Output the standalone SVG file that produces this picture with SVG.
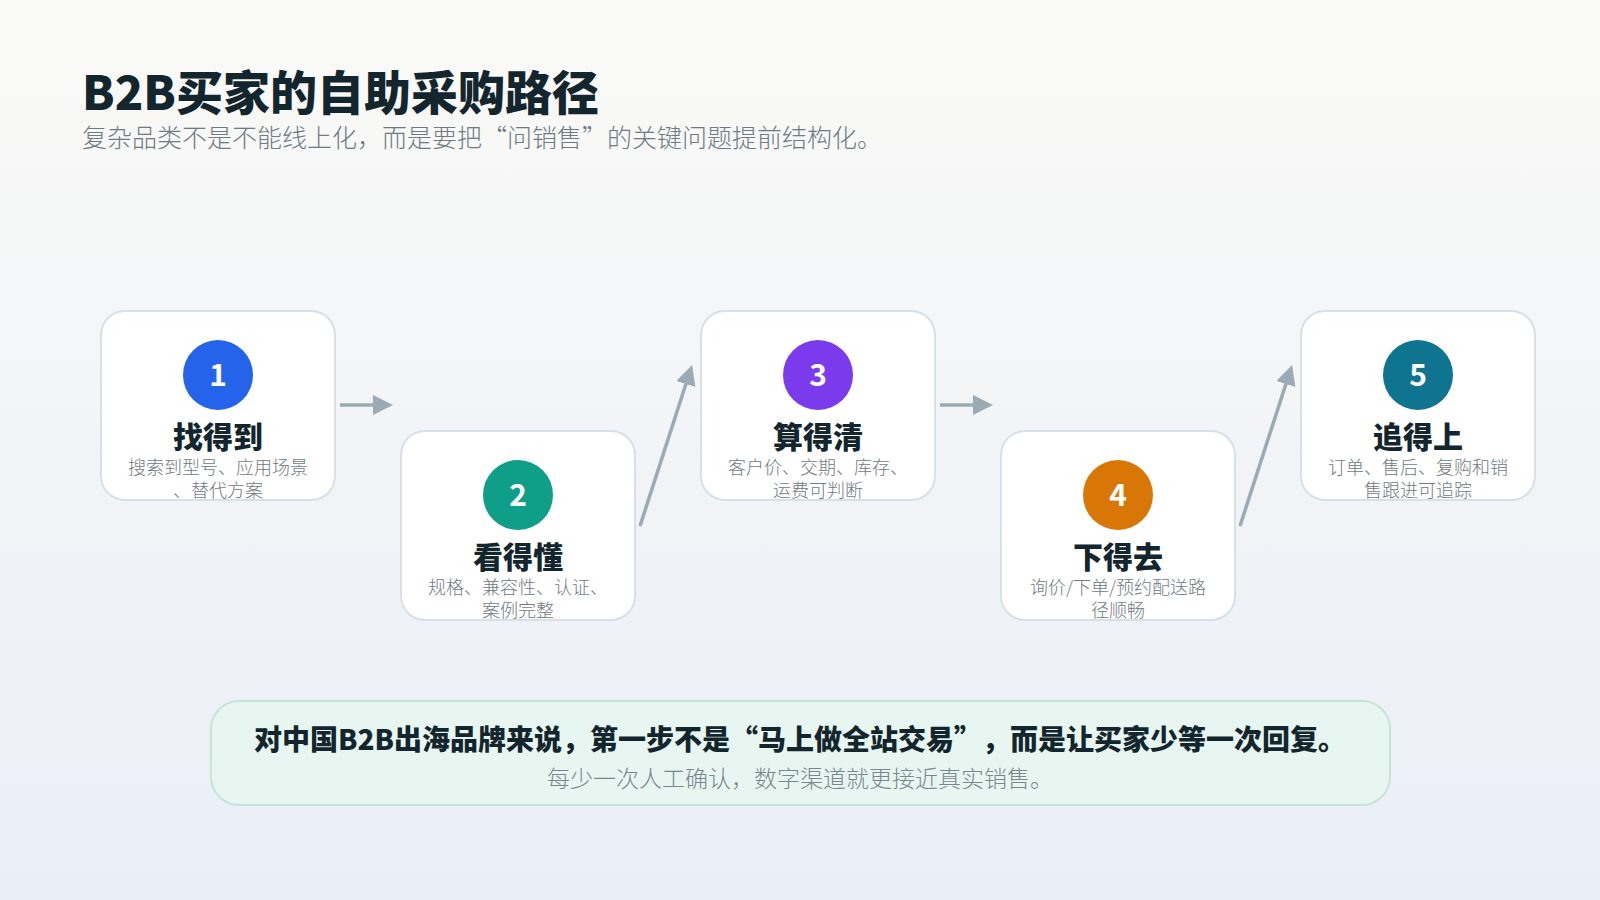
<svg xmlns="http://www.w3.org/2000/svg" width="1600" height="900" viewBox="0 0 1600 900">
<defs>
<linearGradient id="bg" x1="0" y1="0" x2="0" y2="1">
<stop offset="0" stop-color="#fafaf7"/>
<stop offset="1" stop-color="#eaeef7"/>
</linearGradient>
<marker id="ah" markerUnits="userSpaceOnUse" markerWidth="20" markerHeight="20" refX="10" refY="10" orient="auto">
<path d="M0,0 L20,10 L0,20 z" fill="#9aabb5"/>
</marker>
<clipPath id="c1"><rect x="101" y="311" width="234" height="189" rx="24"/></clipPath>
<clipPath id="c2"><rect x="401" y="431" width="234" height="189" rx="24"/></clipPath>
<clipPath id="c3"><rect x="701" y="311" width="234" height="189" rx="24"/></clipPath>
<clipPath id="c4"><rect x="1001" y="431" width="234" height="189" rx="24"/></clipPath>
<clipPath id="c5"><rect x="1301" y="311" width="234" height="189" rx="24"/></clipPath>
</defs>
<style>
text{font-family:"Noto Sans CJK SC","Noto Sans",sans-serif;text-spacing-trim:space-all}
.card{fill:#ffffff;stroke:#d6e0e6;stroke-width:2}
.num{fill:#ffffff;font-size:30px;font-weight:700;text-anchor:middle}
.ttl{fill:#13262e;font-size:30px;font-weight:900;text-anchor:middle}
.sub{fill:#6f7a82;font-size:18px;font-weight:300;text-anchor:middle}
.conn{stroke:#9aabb5;stroke-width:3.5;fill:none;marker-end:url(#ah)}
</style>
<rect x="0" y="0" width="1600" height="900" fill="url(#bg)"/>
<g id="header">
<text x="82" y="110" font-size="47" font-weight="900" fill="#13262e">B2B买家的自助采购路径</text>
<text x="82" y="147" font-size="25" font-weight="300" fill="#6f7a82">复杂品类不是不能线上化，而是要把“问销售”的关键问题提前结构化。</text>
</g>
<g id="connectors">
<line class="conn" x1="340" y1="405" x2="383" y2="405"/>
<line class="conn" x1="640" y1="526" x2="689" y2="374.5"/>
<line class="conn" x1="940" y1="405" x2="983" y2="405"/>
<line class="conn" x1="1240" y1="526" x2="1289" y2="374.5"/>
</g>
<g id="node1">
<rect class="card" x="101" y="311" width="234" height="189" rx="24"/>
<circle cx="218" cy="375" r="35" fill="#2563eb"/>
<text class="num" x="218" y="386">1</text>
<text class="ttl" x="218" y="448">找得到</text>
<g clip-path="url(#c1)"><text class="sub" x="218" y="474">搜索到型号、应用场景</text><text class="sub" x="218" y="497">、替代方案</text></g>
</g>
<g id="node2">
<rect class="card" x="401" y="431" width="234" height="189" rx="24"/>
<circle cx="518" cy="495" r="35" fill="#0f9e88"/>
<text class="num" x="518" y="506">2</text>
<text class="ttl" x="518" y="568">看得懂</text>
<g clip-path="url(#c2)"><text class="sub" x="518" y="594">规格、兼容性、认证、</text><text class="sub" x="518" y="617">案例完整</text></g>
</g>
<g id="node3">
<rect class="card" x="701" y="311" width="234" height="189" rx="24"/>
<circle cx="818" cy="375" r="35" fill="#7c3aed"/>
<text class="num" x="818" y="386">3</text>
<text class="ttl" x="818" y="448">算得清</text>
<g clip-path="url(#c3)"><text class="sub" x="818" y="474">客户价、交期、库存、</text><text class="sub" x="818" y="497">运费可判断</text></g>
</g>
<g id="node4">
<rect class="card" x="1001" y="431" width="234" height="189" rx="24"/>
<circle cx="1118" cy="495" r="35" fill="#d97706"/>
<text class="num" x="1118" y="506">4</text>
<text class="ttl" x="1118" y="568">下得去</text>
<g clip-path="url(#c4)"><text class="sub" x="1118" y="594">询价/下单/预约配送路</text><text class="sub" x="1118" y="617">径顺畅</text></g>
</g>
<g id="node5">
<rect class="card" x="1301" y="311" width="234" height="189" rx="24"/>
<circle cx="1418" cy="375" r="35" fill="#0e7490"/>
<text class="num" x="1418" y="386">5</text>
<text class="ttl" x="1418" y="448">追得上</text>
<g clip-path="url(#c5)"><text class="sub" x="1418" y="474">订单、售后、复购和销</text><text class="sub" x="1418" y="497">售跟进可追踪</text></g>
</g>
<g id="summary">
<rect x="211" y="701" width="1179" height="104" rx="28" fill="#e8f6f1" stroke="#c3e6d9" stroke-width="2"/>
<text x="800" y="750" font-size="28" font-weight="900" fill="#13262e" text-anchor="middle">对中国B2B出海品牌来说，第一步不是“马上做全站交易”，而是让买家少等一次回复。</text>
<text x="800" y="787" font-size="23" font-weight="300" fill="#7a868d" text-anchor="middle">每少一次人工确认，数字渠道就更接近真实销售。</text>
</g>
</svg>
